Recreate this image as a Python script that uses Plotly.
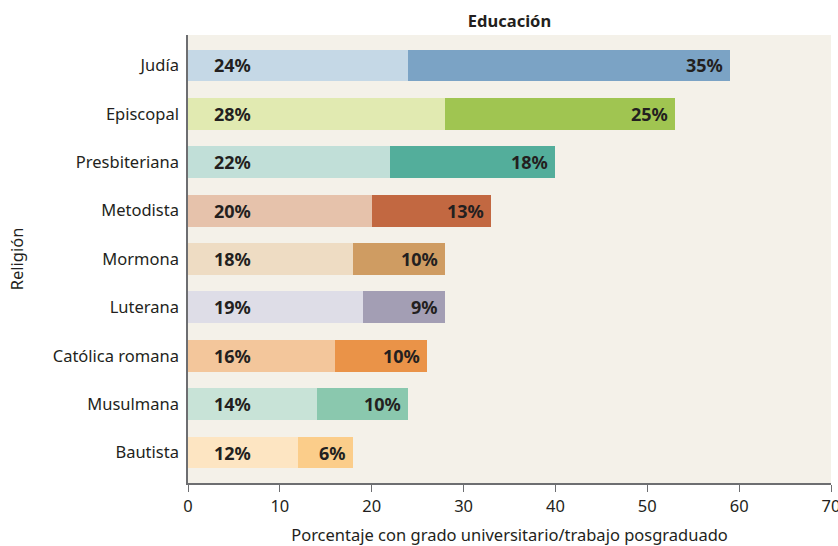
import plotly.graph_objects as go

religiones = ["Judía", "Episcopal", "Presbiteriana", "Metodista", "Mormona",
              "Luterana", "Católica romana", "Musulmana", "Bautista"]
universitario = [24, 28, 22, 20, 18, 19, 16, 14, 12]
posgrado = [35, 25, 18, 13, 10, 9, 10, 10, 6]

colores_claros = ["#C5D8E6", "#E1EAB1", "#C1DFD8", "#E6C2AB", "#EEDCC3",
                  "#DEDDE7", "#F3C69B", "#C8E3D7", "#FDE5C2"]
colores_oscuros = ["#7BA3C5", "#A0C551", "#53AE9B", "#C26841", "#CF9C62",
                   "#A39EB4", "#EA9348", "#8AC8AE", "#FBCD8A"]

texto = "#231F20"
fuente = "Noto Sans"

fig = go.Figure()
fig.add_trace(go.Bar(y=religiones, x=universitario, orientation="h",
                     marker=dict(color=colores_claros, line=dict(width=0)),
                     showlegend=False))
fig.add_trace(go.Bar(y=religiones, x=posgrado, orientation="h",
                     marker=dict(color=colores_oscuros, line=dict(width=0)),
                     showlegend=False))

# etiquetas de porcentaje dentro de las barras
for rel, a, b in zip(religiones, universitario, posgrado):
    fig.add_annotation(x=0, y=rel, text="<b>%d%%</b>" % a, showarrow=False,
                       xanchor="left", xshift=24,
                       font=dict(family=fuente, size=18, color=texto))
    fig.add_annotation(x=a + b, y=rel, text="<b>%d%%</b>" % b, showarrow=False,
                       xanchor="right", xshift=-5,
                       font=dict(family=fuente, size=18, color=texto))

fig.update_layout(
    width=838, height=546,
    barmode="stack", bargap=0.34,
    paper_bgcolor="white", plot_bgcolor="#F4F1E9",
    margin=dict(l=188, r=7, t=35, b=63),
    font=dict(family=fuente, size=16.5, color=texto),
    title=dict(text="<b>Educación</b>", x=0.5, xref="paper", y=0.962, yanchor="middle",
               font=dict(family=fuente, size=16.5, color=texto)),
)
fig.update_xaxes(range=[0, 70], dtick=10, showgrid=False, zeroline=False,
                 showline=True, linecolor="#6D6E71", linewidth=1.5,
                 ticks="outside", ticklen=7, tickcolor="#6D6E71",
                 tickfont=dict(size=16.5), ticklabeloverflow="allow",
                 automargin=False,
                 title=dict(text="Porcentaje con grado universitario/trabajo posgraduado",
                            standoff=15, font=dict(size=16.5)))
fig.update_yaxes(range=[8.63, -0.63], showgrid=False, zeroline=False,
                 showline=True, linecolor="#6D6E71", linewidth=1.5,
                 ticks="", ticklabelstandoff=4, tickfont=dict(size=16.5),
                 automargin=False,
                 title=dict(text="Religión", standoff=25, font=dict(size=16.5)))

fig.write_html("out.html", config={"displayModeBar": False},
               post_script="document.body.style.margin='0px';")
